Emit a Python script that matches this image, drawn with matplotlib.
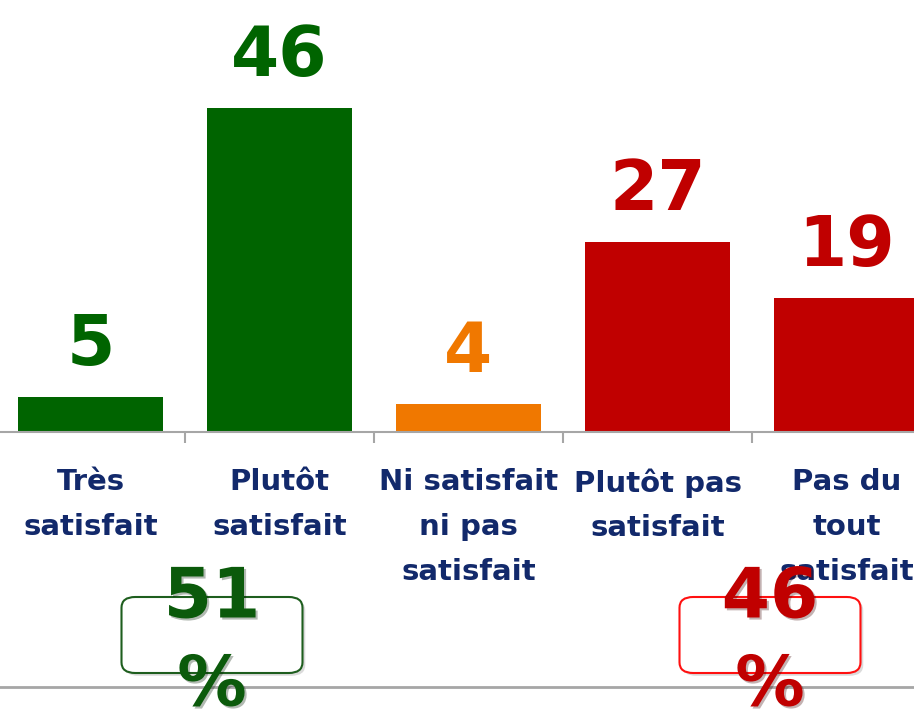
import matplotlib
matplotlib.use("Agg")
import matplotlib.pyplot as plt
from matplotlib.patches import FancyBboxPatch
from matplotlib.lines import Line2D
import matplotlib.patheffects as pe

categories = ["Très\nsatisfait", "Plutôt\nsatisfait", "Ni satisfait\nni pas\nsatisfait",
              "Plutôt pas\nsatisfait", "Pas du\ntout\nsatisfait"]
values = [5, 46, 4, 27, 19]
bar_colors = ["#006400", "#006400", "#F07800", "#C00000", "#C00000"]
summary_values = [51, 46]
summary_text_colors = ["#0B5A0B", "#C00000"]
summary_edge_colors = ["#1E5E1E", "#FF1010"]

W, H = 914, 714
fig = plt.figure(figsize=(W / 100, H / 100), dpi=100)
base_px = 432
ax = fig.add_axes([-4 / W, (H - base_px) / H, 945 / W, base_px / H])
x = list(range(len(values)))
ax.bar(x, values, width=0.77, color=bar_colors)
ax.set_xlim(-0.5, 4.5)
ax.set_ylim(0, 61.3)
for s in ["top", "right", "left"]:
    ax.spines[s].set_visible(False)
ax.spines["bottom"].set_color("#A6A6A6")
ax.spines["bottom"].set_linewidth(1.5)
ax.set_yticks([])
ax.set_xticks(x)
ax.set_xticklabels(categories, fontsize=21, fontweight="bold", color="#12296B",
                   linespacing=1.76)
ax.tick_params(axis="x", which="major", length=0, pad=26)
ax.set_xticks([0.5, 1.5, 2.5, 3.5], minor=True)
ax.tick_params(axis="x", which="minor", length=8, width=1.5, color="#A6A6A6")

for xi, v, c in zip(x, values, bar_colors):
    ax.annotate(str(v), (xi, v), xytext=(0, 13), textcoords="offset points",
                ha="center", va="bottom", fontsize=50, fontweight="bold", color=c)

# bottom gray line
fig.add_artist(Line2D([0, 1], [(H - 687) / H, (H - 687) / H], color="#A6A6A6", lw=2,
                      transform=fig.transFigure))

box_centers = [212, 770]
for cx, val, tc, ec in zip(box_centers, summary_values, summary_text_colors, summary_edge_colors):
    bw, bh = 181, 76
    box = FancyBboxPatch(((cx - bw / 2) / W, (H - 673) / H), bw / W, bh / H,
                         boxstyle="round,pad=0,rounding_size=0.015",
                         transform=fig.transFigure, facecolor="white", edgecolor=ec, lw=1.5,
                         path_effects=[pe.SimplePatchShadow(offset=(2, -2), alpha=0.2), pe.Normal()])
    fig.add_artist(box)
    fig.text(cx / W, (H - 598) / H, str(val), ha="center", va="center", fontsize=50,
             fontweight="bold", color=tc,
             path_effects=[pe.withSimplePatchShadow(offset=(1.5, -1.5), alpha=0.3)])
    fig.text(cx / W, (H - 686) / H, "%", ha="center", va="center", fontsize=50,
             fontweight="bold", color=tc,
             path_effects=[pe.withSimplePatchShadow(offset=(1.5, -1.5), alpha=0.3)])

fig.savefig("out.png", dpi=100)
